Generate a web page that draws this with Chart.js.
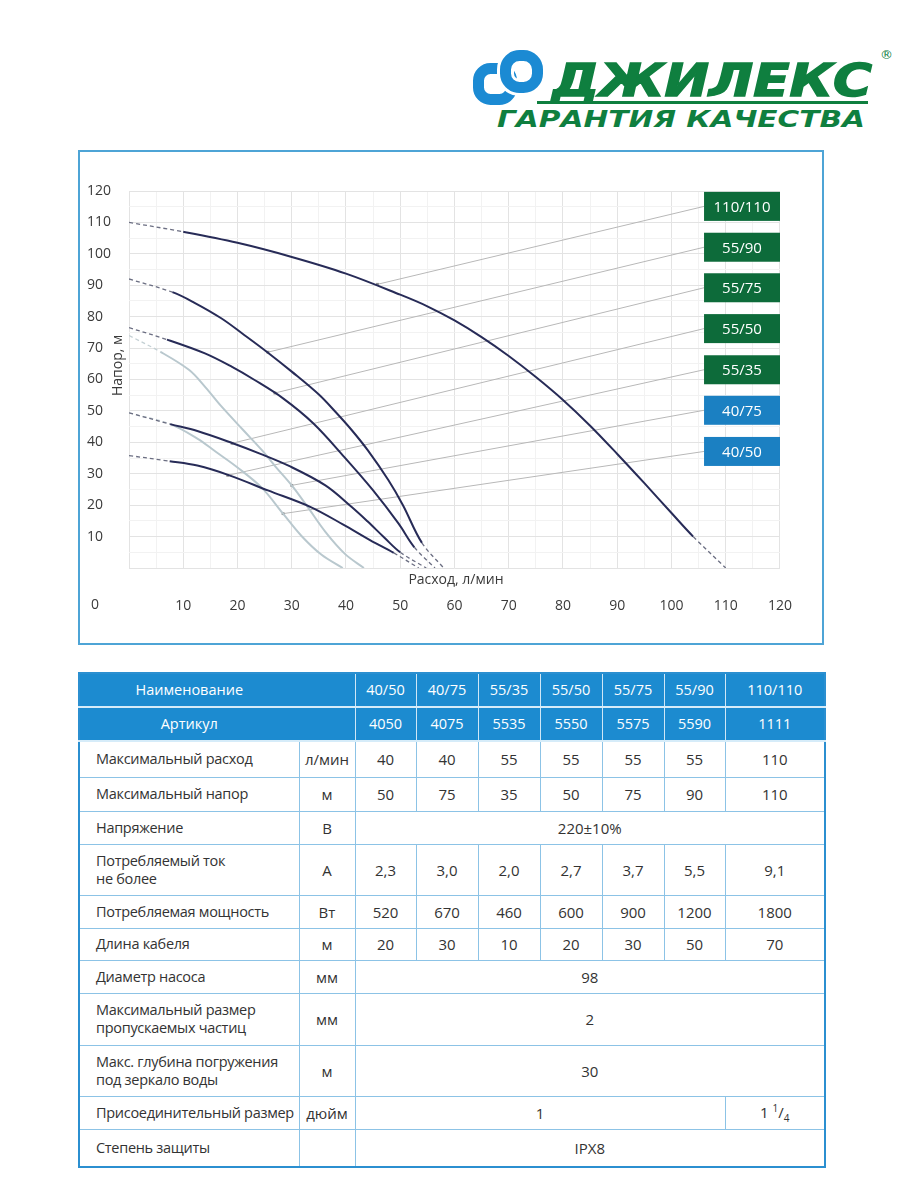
<!DOCTYPE html>
<html>
<head>
<meta charset="utf-8">
<script src="https://cdn.jsdelivr.net/npm/chart.js@4.4.0/dist/chart.umd.min.js"></script>
<style>
  body { margin: 0; width: 900px; height: 1200px; background: #fff; position: relative; overflow: hidden; font-family: "Open Sans", sans-serif; }
  #logo { position: absolute; left: 0; top: 0; }
  .frame { position: absolute; left: 78px; top: 150px; width: 742px; height: 491px; border: 2px solid #4ea4d6; }
  #spec { position: absolute; left: 78px; top: 672px; width: 746px; border-collapse: collapse; table-layout: fixed; border: 2px solid #2b8fd0; color: #333; font-size: 15px; }
  #spec td { border: 1px solid #8cc3e6; text-align: center; padding: 0; line-height: 18px; }
  #spec td.lab { text-align: left; padding-left: 16px; font-size: 14.5px; letter-spacing: -0.3px; white-space: nowrap; }
  #spec tr.head td { background: #1c8bd0; color: #fff; font-size: 14.5px; border-color: #cfe7f6; border-top: none; border-bottom: 2px solid #d6ecf9; }
  #spec tr.head td.first { padding-right: 56px; }
  #spec sup, #spec sub { font-size: 10px; }
</style>
</head>
<body>
<svg id="logo" width="900" height="145">
  <rect x="478.5" y="68.5" width="33" height="31" rx="12" fill="none" stroke="#1b8ad3" stroke-width="11"/>
  <rect x="505.5" y="55.5" width="32" height="32" rx="14" fill="none" stroke="#fff" stroke-width="17"/>
  <rect x="505.5" y="55.5" width="32" height="32" rx="14" fill="none" stroke="#1b8ad3" stroke-width="11"/>
  <text x="552" y="96" font-family="DejaVu Sans" font-weight="bold" font-style="italic" font-size="45" fill="#0f7f3f" stroke="#0f7f3f" stroke-width="1.5" textLength="320" lengthAdjust="spacingAndGlyphs">ДЖИЛЕКС</text>
  <rect x="537" y="101" width="331" height="3" fill="#0f7f3f"/>
  <text x="497" y="127" font-family="DejaVu Sans" font-weight="bold" font-style="italic" font-size="23" fill="#0f7f3f" textLength="368" lengthAdjust="spacingAndGlyphs">ГАРАНТИЯ КАЧЕСТВА</text>
  <text x="880" y="59" font-family="DejaVu Sans" font-size="13" fill="#0f7f3f">®</text>
</svg>

<div class="frame"><canvas id="chart" width="742" height="491"></canvas></div>

<table id="spec"></table>

<script>
// --- chart data ---
var models = ['110/110', '55/90', '55/75', '55/50', '55/35', '40/75', '40/50'];

var flow110 = [0, 10, 20, 30, 40, 50, 55, 60, 65, 70, 75, 80, 85, 90, 95, 100, 104, 110];
var head110 = [110, 107, 103.5, 99, 93.7, 87, 83.3, 78.8, 73.5, 67.5, 60.8, 53.5, 45.3, 36.3, 27, 17.5, 10, 0];
var flow5590 = [0, 8, 12, 17, 21, 25.5, 30, 35, 38, 41, 44, 47.8, 50.5, 54, 58];
var head5590 = [92, 87.8, 84.5, 79.5, 74.5, 68.7, 62.5, 55.2, 49.8, 44, 37.5, 28, 20, 8, 0];
var flow5575 = [0, 7, 14, 19, 23, 28.4, 34, 39.7, 45, 49.7, 52.6, 56.4];
var head5575 = [76.5, 72.7, 68.3, 64, 60, 54, 46, 35.3, 24.7, 14.1, 6.6, 0];
var flow5550 = [0, 7.6, 12.6, 19, 24, 29.5, 36.2, 41, 44, 47, 50, 54.8];
var head5550 = [49.4, 45.8, 43.6, 39.8, 36.5, 32.5, 26.3, 19.5, 14.8, 9.8, 5, 0];
var flow5535 = [0, 7.5, 12.6, 18.5, 25.6, 33.5, 39.5, 44.5, 48.8, 53.4];
var head5535 = [35.8, 34, 32.6, 29.5, 24.7, 19.4, 13.8, 8.8, 4.8, 0];
var flow4075 = [0, 5.8, 11.1, 14.1, 17, 21, 24.5, 27, 30, 32.7, 36.2, 39.8, 43.3];
var head4075 = [74, 68.8, 63, 57.5, 51.5, 44, 37.5, 32.3, 26.3, 20, 11.5, 4.5, 0];
var flow4050 = [0, 7.6, 12.6, 16, 20, 24.5, 28.4, 31.8, 35.5, 39.4];
var head4050 = [49.4, 45.8, 41.2, 37, 32, 25.5, 17.3, 10.2, 4.2, 0];

var tailDashed = [true, true, true, true, true, false, false];

// where each leader line leaves its curve, and the label it points to
var leaderFlow = [45.8, 25.6, 26.9, 19, 18.2, 30, 28.4];
var leaderHead = [90.3, 68.7, 55.7, 39.7, 29.5, 26.3, 17.3];
var labelHead = [115.1, 102.1, 89.2, 76.2, 63.1, 50.2, 37.1];
var labelFlow = 106;

var pumpFlow = [flow110, flow5590, flow5575, flow5550, flow5535, flow4075, flow4050];
var pumpHead = [head110, head5590, head5575, head5550, head5535, head4075, head4050];

var GREEN = '#0d6b3a', BLUE = '#1b80c2';
var boxColors = [GREEN, GREEN, GREEN, GREEN, GREEN, BLUE, BLUE];

var datasets = [];
pumpFlow.forEach(function(fx, i) {
  var light = i >= 5;
  var last = fx.length - 1;
  var dashed = function(c) { return c.p0DataIndex === 0 || (tailDashed[i] && c.p1DataIndex === last); };
  datasets.push({
    data: fx.map(function(x, k) { return {x: x, y: pumpHead[i][k]}; }),
    borderColor: light ? '#b9c8ce' : '#272b57',
    borderWidth: 2,
    pointRadius: 0,
    tension: 0.35,
    order: light ? 1 : 0,
    segment: {
      borderDash: function(c) { return dashed(c) ? [4, 3] : undefined; },
      borderWidth: function(c) { return dashed(c) ? 1.3 : undefined; },
      borderColor: function(c) { return dashed(c) ? (light ? '#c4d0d4' : '#6b6e82') : undefined; }
    }
  });
});
models.forEach(function(m, i) {
  datasets.push({
    data: [{x: leaderFlow[i], y: leaderHead[i]}, {x: labelFlow, y: labelHead[i]}],
    borderColor: '#b8b8b8',
    borderWidth: 1,
    pointRadius: [2, 0],
    pointStyle: 'rect',
    pointBackgroundColor: '#8c8c8c',
    pointBorderWidth: 0,
    tension: 0,
    order: 2
  });
});

var overlay = {
  id: 'overlay',
  afterDatasetsDraw: function(chart) {
    var ctx = chart.ctx, area = chart.chartArea, x = chart.scales.x, y = chart.scales.y;
    ctx.save();
    var left = x.getPixelForValue(labelFlow), right = x.getPixelForValue(120);
    models.forEach(function(m, i) {
      var cy = y.getPixelForValue(labelHead[i]);
      ctx.fillStyle = boxColors[i];
      ctx.fillRect(left, cy - 14.5, right - left, 29);
      ctx.fillStyle = '#fff';
      ctx.font = '15px "Open Sans"';
      ctx.textAlign = 'center';
      ctx.textBaseline = 'middle';
      ctx.fillText(m, (left + right) / 2, cy + 1);
    });
    ctx.fillStyle = '#3a3a3a';
    ctx.font = '14px "Open Sans"';
    ctx.fillText('0', x.getPixelForValue(0) - 34, area.bottom + 37);
    ctx.textAlign = 'left';
    ctx.fillText('Расход, л/мин', x.getPixelForValue(51.5), area.bottom + 12);
    ctx.translate(area.left - 11, y.getPixelForValue(64.5));
    ctx.rotate(-Math.PI / 2);
    ctx.textAlign = 'center';
    ctx.fillText('Напор, м', 0, 0);
    ctx.restore();
  }
};

function gridColor(c) { return c.tick.value % 10 === 0 ? '#e3e3e3' : '#f2f2f2'; }
function tenLabel(v) { return v % 10 === 0 && v !== 0 ? v : ''; }

new Chart(document.getElementById('chart'), {
  type: 'line',
  data: { datasets: datasets },
  options: {
    responsive: false,
    animation: false,
    layout: { padding: { left: 7, right: 15, top: 39, bottom: 0 } },
    plugins: { legend: { display: false }, tooltip: { enabled: false } },
    scales: {
      x: {
        type: 'linear', min: 0, max: 120,
        border: { display: false },
        grid: { color: gridColor, drawTicks: false },
        ticks: { stepSize: 5, autoSkip: false, maxRotation: 0, padding: 30, color: '#3a3a3a', font: { family: 'Open Sans', size: 14 }, callback: tenLabel },
        afterFit: function(s) { s.height = 75; }
      },
      y: {
        min: 0, max: 120,
        border: { display: false },
        grid: { color: gridColor, drawTicks: false },
        ticks: { stepSize: 5, autoSkip: false, crossAlign: 'far', color: '#3a3a3a', font: { family: 'Open Sans', size: 14 }, callback: tenLabel },
        afterFit: function(s) { s.width = 42; }
      }
    }
  },
  plugins: [overlay]
});

// --- spec table ---
var articles = ['4050', '4075', '5535', '5550', '5575', '5590', '1111'];
var tableModels = ['40/50', '40/75', '55/35', '55/50', '55/75', '55/90', '110/110'];
var maxFlow = ['40', '40', '55', '55', '55', '55', '110'];
var maxHead = ['50', '75', '35', '50', '75', '90', '110'];
var current = ['2,3', '3,0', '2,0', '2,7', '3,7', '5,5', '9,1'];
var power = ['520', '670', '460', '600', '900', '1200', '1800'];
var cable = ['20', '30', '10', '20', '30', '50', '70'];

var colW = [220, 56, 61, 62, 62, 62, 62, 61, 100];
var html = '<colgroup>' + colW.map(function(w) { return '<col style="width:' + w + 'px">'; }).join('') + '</colgroup>';
function row(h, cells) { return '<tr style="height:' + h + 'px">' + cells + '</tr>'; }
function vals(arr) { return arr.map(function(v) { return '<td>' + v + '</td>'; }).join(''); }
html += '<tr class="head" style="height:34px"><td colspan="2" class="first">Наименование</td>' + vals(tableModels) + '</tr>';
html += '<tr class="head" style="height:34px"><td colspan="2" class="first">Артикул</td>' + vals(articles) + '</tr>';
html += row(36, '<td class="lab">Максимальный расход</td><td>л/мин</td>' + vals(maxFlow));
html += row(34, '<td class="lab">Максимальный напор</td><td>м</td>' + vals(maxHead));
html += row(33, '<td class="lab">Напряжение</td><td>В</td><td colspan="7">220±10%</td>');
html += row(51, '<td class="lab">Потребляемый ток<br>не более</td><td>А</td>' + vals(current));
html += row(33, '<td class="lab">Потребляемая мощность</td><td>Вт</td>' + vals(power));
html += row(32, '<td class="lab">Длина кабеля</td><td>м</td>' + vals(cable));
html += row(33, '<td class="lab">Диаметр насоса</td><td>мм</td><td colspan="7">98</td>');
html += row(52, '<td class="lab">Максимальный размер<br>пропускаемых частиц</td><td>мм</td><td colspan="7">2</td>');
html += row(51, '<td class="lab">Макс. глубина погружения<br>под зеркало воды</td><td>м</td><td colspan="7">30</td>');
html += row(33, '<td class="lab">Присоединительный размер</td><td>дюйм</td><td colspan="6">1</td><td>1 <sup>1</sup>/<sub>4</sub></td>');
html += row(38, '<td class="lab">Степень защиты</td><td></td><td colspan="7">IPX8</td>');
document.getElementById('spec').innerHTML = html;
</script>
</body>
</html>
